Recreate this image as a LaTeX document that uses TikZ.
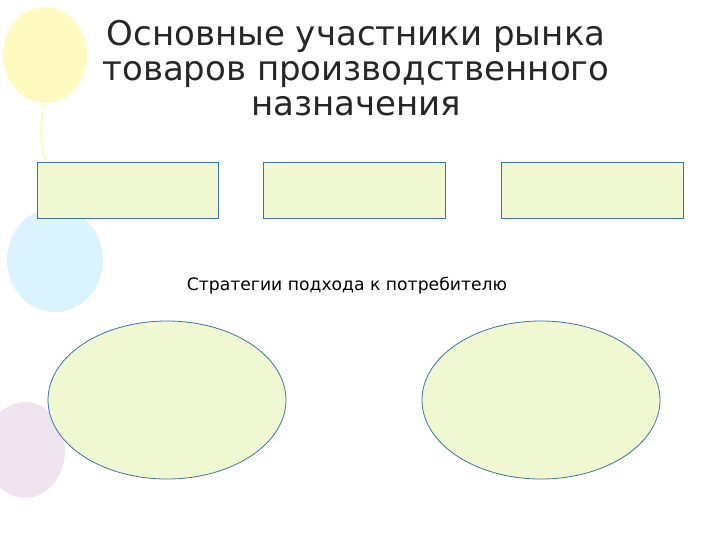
\documentclass[tikz,border=0pt]{standalone}
\usepackage{fontspec}
\setmainfont{DejaVu Sans}
\usetikzlibrary{shapes.geometric}
\definecolor{boxfill}{HTML}{F0F8D2}
\definecolor{boxline}{HTML}{3B73A8}
\tikzset{box/.style={draw=boxline,fill=boxfill,line width=0.6pt},
 balloon/.style={draw=none,opacity=0.35}}
\begin{document}
\begin{tikzpicture}[x=0.75pt,y=-0.75pt]
\useasboundingbox (0,0) rectangle (720,540);
\fill[white] (0,0) rectangle (720,540);
% decorative balloons
\fill[balloon,yellow!70!white] (45,55) ellipse (42 and 48);
\fill[balloon,cyan!40!white] (55,260) ellipse (48 and 52);
\fill[balloon,violet!30!white] (25,450) ellipse (40 and 48);
\draw[yellow!60!white,line width=1pt,opacity=0.5] (45,103) .. controls (30,150) and (60,180) .. (50,208);
\node[align=center,text=black!85,font=\fontsize{25.5}{26.5}\selectfont] (title) at (356,68) {Основные участники рынка\\товаров производственного\\назначения};
\draw[box] (37,162) rectangle (218,218) coordinate (r1);
\draw[box] (263,162) rectangle (445,218) coordinate (r2);
\draw[box] (501,162) rectangle (683,218) coordinate (r3);
\node[font=\fontsize{12.9}{14}\selectfont] (strat) at (347,286) {Стратегии подхода к потребителю};
\node[box,ellipse,minimum width=178.5pt,minimum height=118.5pt,inner sep=0pt] (e1) at (167,400) {};
\node[box,ellipse,minimum width=178.5pt,minimum height=118.5pt,inner sep=0pt] (e2) at (541,400) {};
\end{tikzpicture}
\end{document}
